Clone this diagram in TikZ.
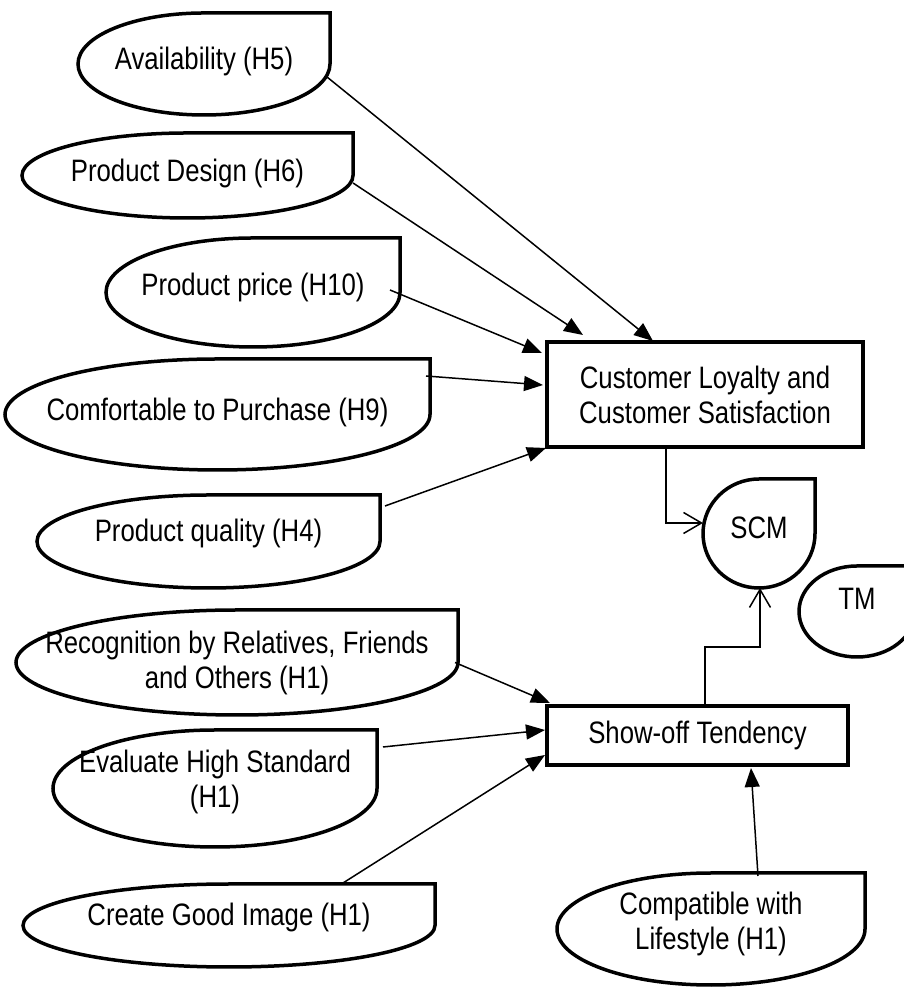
\documentclass[tikz,border=0pt]{standalone}
\usepackage{fontspec}
\setmainfont[FakeStretch=0.83]{Liberation Sans}
\usetikzlibrary{arrows.meta}
\tikzset{
  blobline/.style={line width=3.5pt, line join=miter},
  hit/.style={inner sep=0pt, outer sep=0pt, draw=none},
  txt/.style={inner sep=0pt, align=center, font=\fontsize{31}{35}\selectfont},
  boxst/.style={draw, line width=4pt, inner sep=0pt, outer sep=0pt, align=center, font=\fontsize{31}{35}\selectfont},
  arr/.style={line width=1.5pt, -{Triangle[length=19pt,width=15pt]}},
  oarr/.style={line width=1.5pt, -{Straight Barb[length=18pt,width=21pt,line width=1.5pt]}}
}
% #1 name, #2 xl, #3 yt, #4 xr, #5 yb (image px), #6 text shift up, #7 text
\newcommand\blob[7]{%
  \pgfmathsetmacro\bcx{(#2+#4)/2}%
  \pgfmathsetmacro\bcy{987-(#3+#5)/2}%
  \pgfmathsetmacro\brx{(#4-#2)/2}%
  \pgfmathsetmacro\bry{(#5-#3)/2}%
  \pgfmathsetmacro\bw{#4-#2}%
  \pgfmathsetmacro\bh{#5-#3}%
  \node[hit, minimum width=\bw pt, minimum height=\bh pt] (#1) at (\bcx,\bcy) {};
  \draw[blobline] (#1.west) arc[start angle=180,end angle=90,x radius=\brx pt,y radius=\bry pt]
     -- (#1.north east) -- (#1.east)
     arc[start angle=0,end angle=-180,x radius=\brx pt,y radius=\bry pt] -- cycle;
  \node[txt] (#1-t) at ([yshift=#6pt]#1.center) {#7};
}
\begin{document}
\begin{tikzpicture}[x=1pt,y=1pt]
\useasboundingbox (0,0) rectangle (904,987);
\clip (0,0) rectangle (904,987);
\fill[white] (0,0) rectangle (904,987);

\blob{av}{78}{13}{330}{115}{3}{Availability (H5)}
\blob{pd}{22}{133}{353}{218}{2}{Product Design (H6)}
\blob{pp}{106}{238}{400}{347}{5}{Product price (H10)}
\blob{cf}{5}{359}{430}{470}{2}{Comfortable to Purchase (H9)}
\blob{pq}{37}{495}{380}{588}{8}{Product quality (H4)}
\blob{rc}{16}{610}{458}{715}{0}{Recognition by Relatives, Friends\\and Others (H1)}
\blob{ev}{53}{730}{377}{847}{7}{Evaluate High Standard\\(H1)}
\blob{cg}{23}{884}{435}{967}{8}{Create Good Image (H1)}
\blob{cp}{557}{873}{865}{985}{5}{Compatible with\\Lifestyle (H1)}
\blob{scm}{703}{479}{815}{588}{6}{SCM}
\blob{tm}{799}{566}{915}{657}{13}{TM}

\node[boxst, minimum width=316pt, minimum height=105pt] (cl) at (705,592.5) {Customer Loyalty and\\Customer Satisfaction};
\node[boxst, minimum width=301pt, minimum height=59pt] (so) at (697.5,251.5) {Show-off Tendency};

\draw[arr] ([shift={(-3,-13)}]av.east) -- ([shift={(-52,1)}]cl.north);
\draw[arr] ([shift={(0,-7.5)}]pd.east) -- ([shift={(36,7)}]cl.north west);
\draw[arr] ([shift={(-10,2.5)}]pp.east) -- ([shift={(-5,-11)}]cl.north west);
\draw[arr] ([shift={(-4,-17)}]cf.north east) -- ([shift={(-4,-43)}]cl.north west);
\draw[arr] ([shift={(5,-11)}]pq.north east) -- ([shift={(-1,-1)}]cl.south west);

\draw[oarr] ([xshift=-39]cl.south) |- ([yshift=10.5]scm.west);
\draw[oarr] ([xshift=7.5]so.north) -- ++(0,59) -| ([xshift=1]scm.south);

\draw[arr] ([shift={(-3,0)}]rc.east) -- ([shift={(3,3)}]so.north west);
\draw[arr] ([shift={(6,-17)}]ev.north east) -- ([shift={(-2,-24)}]so.north west);
\draw[arr] ([shift={(114,1)}]cg.north) -- ([shift={(-2,10)}]so.south west);
\draw[arr] ([shift={(47,-3)}]cp.north) -- ([shift={(53.5,-3)}]so.south);
\end{tikzpicture}
\end{document}
